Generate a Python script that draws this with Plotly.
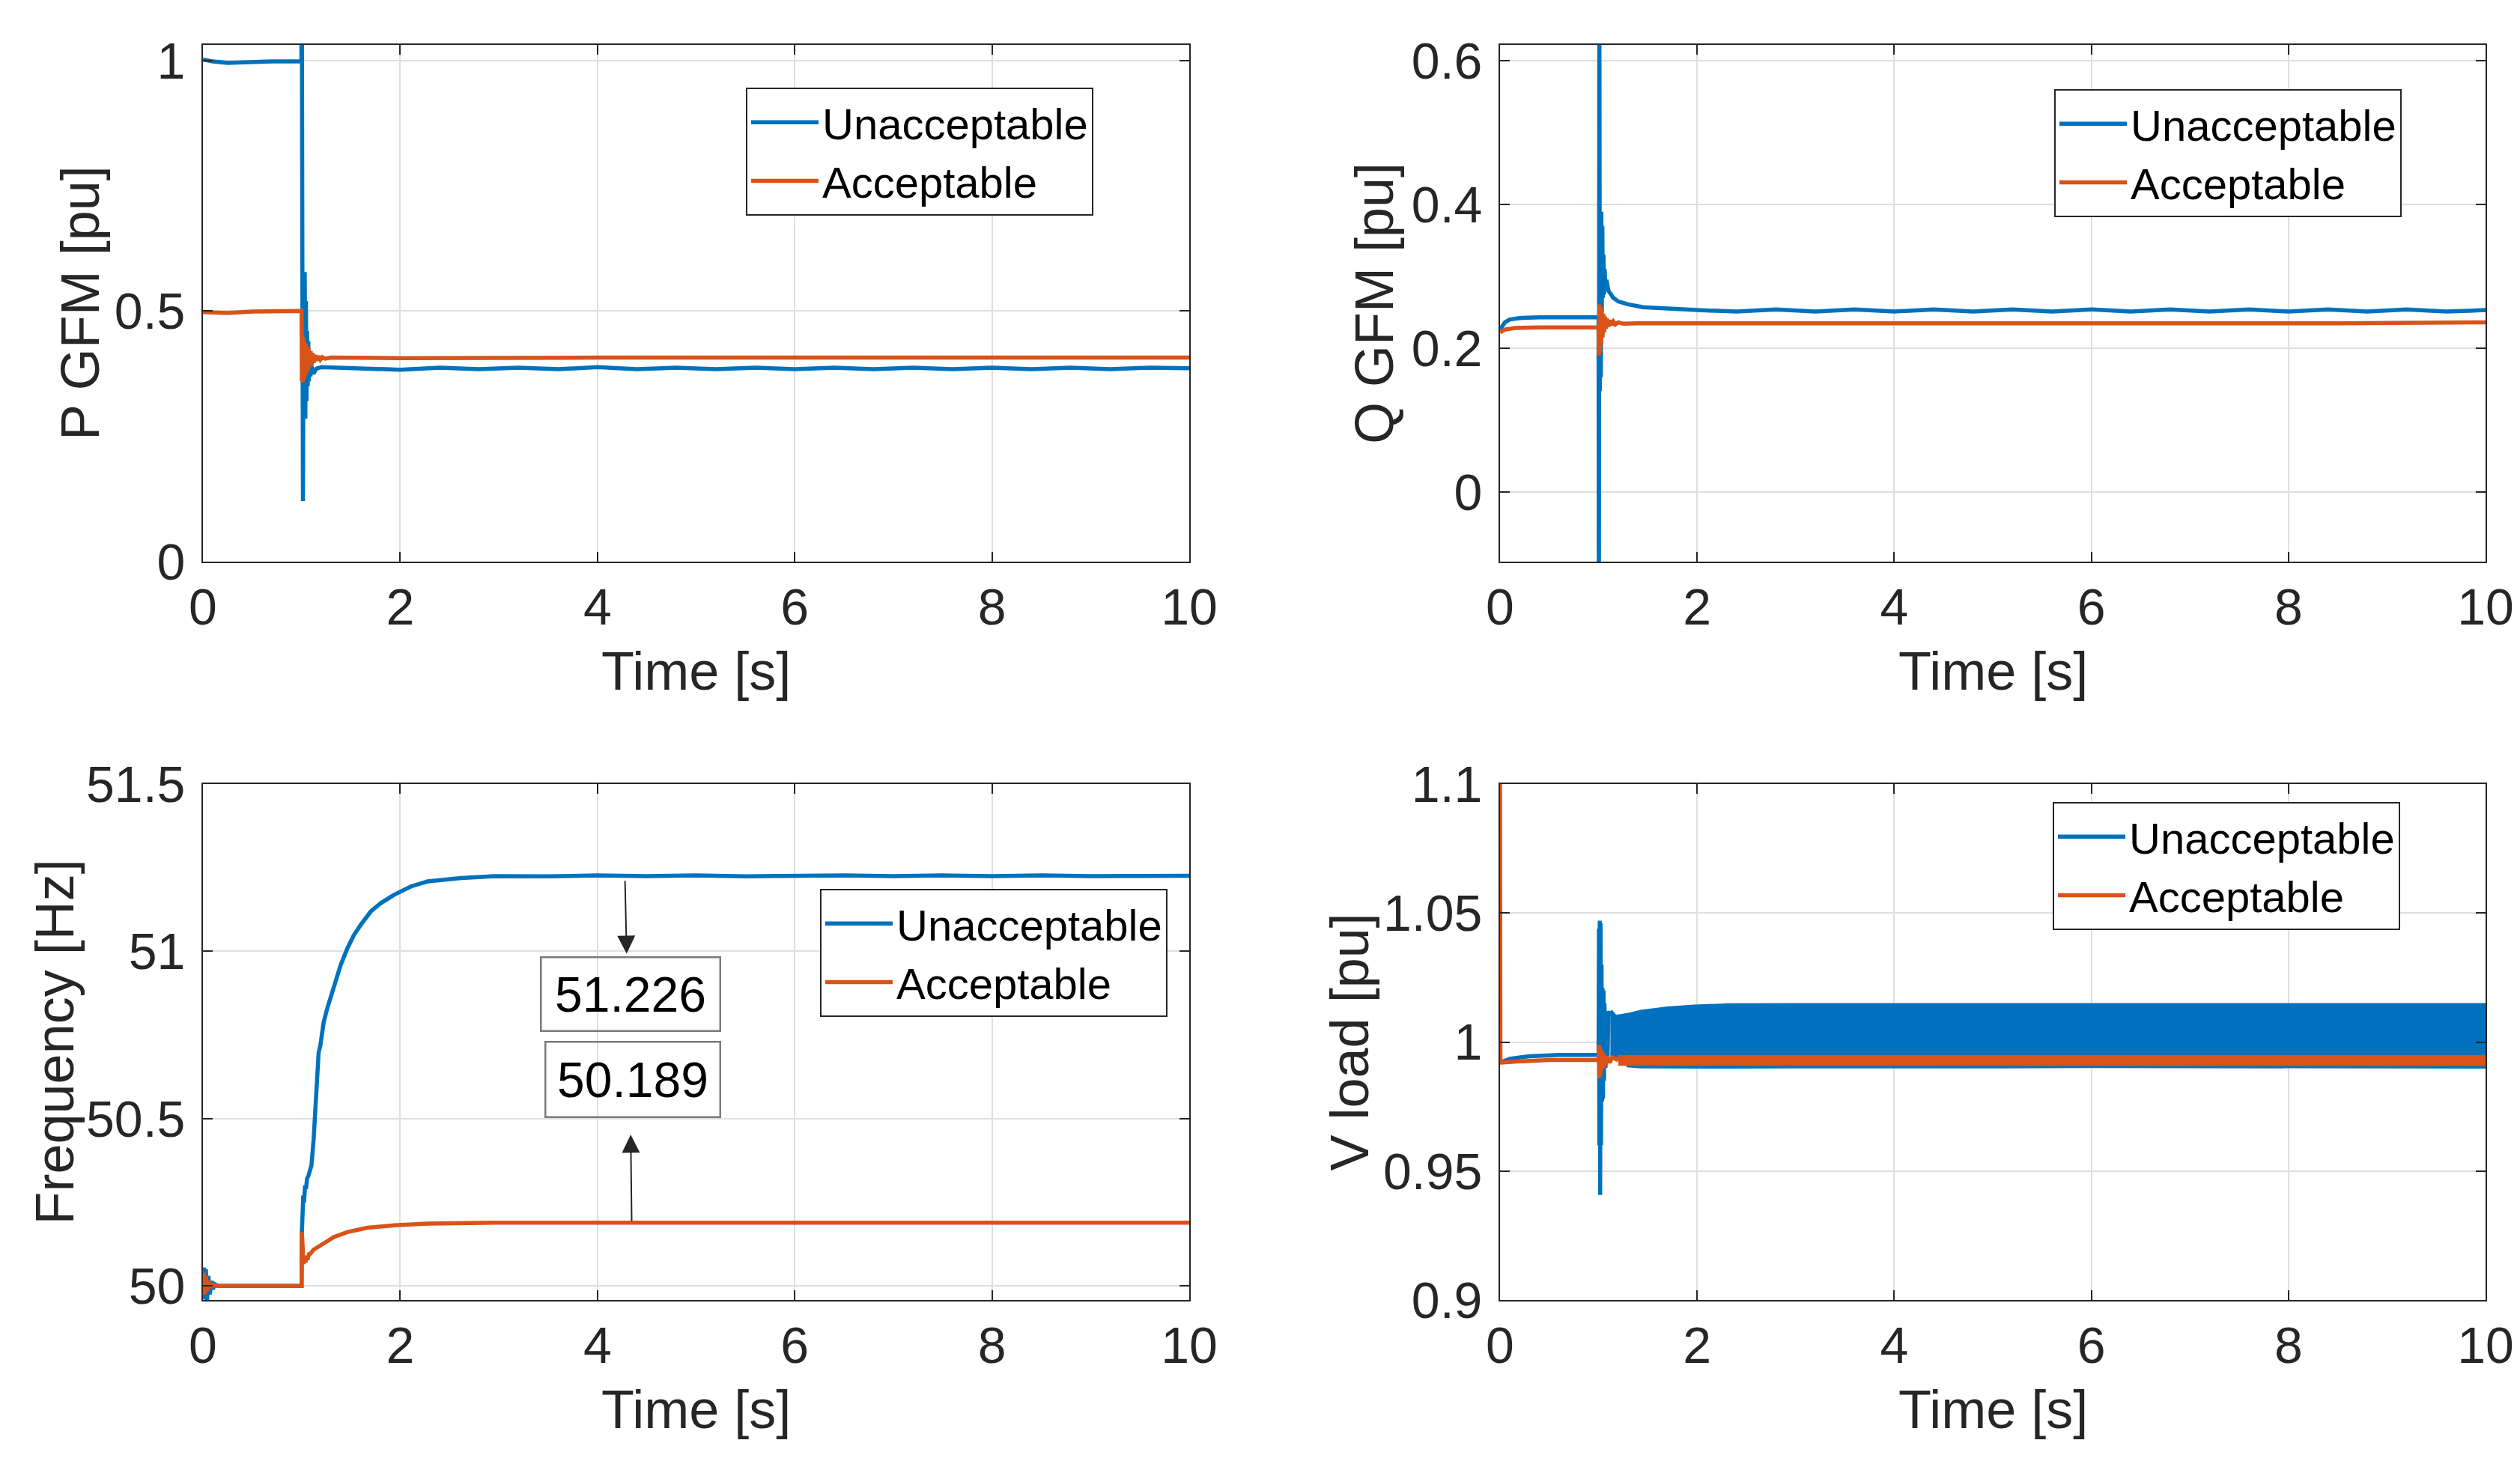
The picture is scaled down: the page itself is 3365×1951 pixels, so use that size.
import plotly.graph_objects as go
from plotly.subplots import make_subplots

W, H = 3365, 1951
BLUE = '#0072BD'
ORANGE = '#D95319'
INK = '#262626'
FONT = 'Liberation Sans, Arial, sans-serif'

# ---- P GFM [pu] ----
p_t_un = [0, 0.1, 0.25, 0.45, 0.7, 0.998, 1.002, 1.008, 1.014, 1.02, 1.026, 1.032, 1.038,
          1.044, 1.05, 1.056, 1.062, 1.068, 1.074, 1.08, 1.09, 1.1, 1.12, 1.15, 1.2, 1.5,
          2.0, 2.4, 2.8, 3.2, 3.6, 4.0, 4.4, 4.8, 5.2, 5.6, 6.0, 6.4, 6.8, 7.2, 7.6, 8.0,
          8.4, 8.8, 9.2, 9.6, 10]
p_un = [1.002, 0.998, 0.995, 0.997, 0.998, 0.998, 1.25, 0.6, 0.121, 0.55, 0.3, 0.578, 0.285,
        0.52, 0.32, 0.46, 0.35, 0.44, 0.36, 0.41, 0.37, 0.39, 0.375, 0.385, 0.388, 0.386,
        0.383, 0.387, 0.384, 0.387, 0.384, 0.388, 0.384, 0.387, 0.384, 0.387, 0.384, 0.387,
        0.384, 0.387, 0.384, 0.387, 0.384, 0.387, 0.384, 0.387, 0.386]
p_t_ac = [0, 0.25, 0.5, 0.998, 1.0, 1.003, 1.008, 1.013, 1.018, 1.023, 1.028, 1.033, 1.04,
          1.047, 1.055, 1.063, 1.072, 1.082, 1.092, 1.102, 1.112, 1.125, 1.14, 1.155, 1.17,
          1.19, 1.21, 1.24, 1.3, 2, 4, 6, 8, 10]
p_ac = [0.498, 0.496, 0.499, 0.5, 0.5, 0.36, 0.45, 0.358, 0.445, 0.365, 0.44, 0.37, 0.435,
        0.375, 0.43, 0.38, 0.425, 0.388, 0.42, 0.392, 0.416, 0.397, 0.412, 0.401, 0.41,
        0.403, 0.408, 0.405, 0.407, 0.406, 0.407, 0.406, 0.407, 0.407]

# ---- Q GFM [pu] ----
q_t_un = [0, 0.05, 0.1, 0.2, 0.4, 0.7, 0.995, 1.0, 1.003, 1.008, 1.013, 1.018, 1.023, 1.028,
          1.033, 1.038, 1.044, 1.05, 1.056, 1.062, 1.07, 1.08, 1.1, 1.15, 1.2, 1.3, 1.45, 1.7,
          2.0, 2.4, 2.8, 3.2, 3.6, 4.0, 4.4, 4.8, 5.2, 5.6, 6.0, 6.4, 6.8, 7.2, 7.6, 8.0, 8.4,
          8.8, 9.2, 9.6, 10]
q_un = [0.226, 0.236, 0.240, 0.242, 0.243, 0.243, 0.243, 0.243, -0.2, 0.7, 0.14, 0.337, 0.16,
        0.39, 0.25, 0.37, 0.27, 0.33, 0.275, 0.31, 0.28, 0.295, 0.28, 0.27, 0.265, 0.261,
        0.257, 0.255, 0.253, 0.251, 0.254, 0.251, 0.254, 0.251, 0.254, 0.251, 0.254, 0.251,
        0.254, 0.251, 0.254, 0.251, 0.254, 0.251, 0.254, 0.251, 0.254, 0.251, 0.253]
q_t_ac = [0, 0.05, 0.15, 0.4, 0.995, 1.0, 1.004, 1.009, 1.014, 1.02, 1.026, 1.032, 1.04, 1.048,
          1.057, 1.066, 1.076, 1.087, 1.1, 1.115, 1.13, 1.15, 1.17, 1.2, 1.25, 1.4, 3, 5, 7,
          8.5, 10]
q_ac = [0.222, 0.226, 0.228, 0.229, 0.229, 0.229, 0.19, 0.261, 0.195, 0.258, 0.205, 0.252,
        0.215, 0.248, 0.222, 0.244, 0.227, 0.241, 0.23, 0.239, 0.232, 0.237, 0.233, 0.236,
        0.234, 0.2345, 0.2345, 0.2355, 0.2355, 0.2345, 0.236]

# ---- Frequency [Hz] ----
f_t_un = [0, 0.01, 0.02, 0.03, 0.04, 0.055, 0.07, 0.085, 0.1, 0.12, 0.15, 0.5, 1.0, 1.003,
          1.01, 1.017, 1.025, 1.035, 1.045, 1.055, 1.07, 1.088, 1.1, 1.122, 1.139, 1.156,
          1.173, 1.19, 1.224, 1.259, 1.327, 1.395, 1.463, 1.531, 1.599, 1.701, 1.803, 1.939,
          2.109, 2.279, 2.619, 2.959, 3.5, 4, 4.5, 5, 5.5, 6, 6.5, 7, 7.5, 8, 8.5, 9, 9.5, 10]
f_un = [50.0, 50.055, 49.96, 50.05, 49.95, 50.03, 49.975, 50.015, 49.99, 50.005, 50.0, 50.0,
        50.0, 50.16, 50.22, 50.27, 50.25, 50.3, 50.29, 50.32, 50.33, 50.346, 50.36, 50.437,
        50.517, 50.617, 50.698, 50.718, 50.788, 50.828, 50.898, 50.958, 51.008, 51.049,
        51.079, 51.119, 51.144, 51.169, 51.194, 51.209, 51.219, 51.225, 51.224, 51.227,
        51.225, 51.227, 51.224, 51.226, 51.227, 51.225, 51.227, 51.225, 51.227, 51.225,
        51.227, 51.226]
f_t_ac = [0, 0.01, 0.02, 0.03, 0.045, 0.06, 0.08, 0.1, 0.15, 1.0, 1.003, 1.01, 1.02, 1.03,
          1.04, 1.05, 1.06, 1.075, 1.088, 1.12, 1.19, 1.327, 1.463, 1.667, 1.939, 2.279,
          2.959, 4, 5, 6, 7, 8, 10]
f_ac = [50.0, 50.04, 49.975, 50.03, 49.985, 50.015, 49.995, 50.003, 50.0, 50.0, 50.161, 50.1,
        50.066, 50.085, 50.07, 50.09, 50.078, 50.095, 50.096, 50.108, 50.121, 50.146, 50.161,
        50.174, 50.181, 50.186, 50.189, 50.189, 50.19, 50.191, 50.19, 50.189, 50.189]

# ---- V load [pu] ----
v_t_un = [0, 0.1, 0.3, 0.6, 1.0, 1.004, 1.008, 1.012, 1.016, 1.02, 1.025, 1.03, 1.035, 1.04,
          1.045, 1.05, 1.055, 1.06, 1.07, 1.08, 1.09, 1.1, 1.12]
v_un = [0.992, 0.9935, 0.9945, 0.995, 0.995, 1.044, 0.96, 1.047, 0.9407, 1.046, 0.96, 1.03,
        0.977, 1.021, 0.978, 1.02, 0.985, 1.015, 0.99, 1.012, 0.992, 1.01, 1.012]
# envelope of the fast oscillation after the event
v_t_band_un = [1.12, 1.17, 1.25, 1.3, 1.43, 1.7, 1.97, 2.31, 3, 4, 5, 6, 7, 8, 9, 10]
v_hi_un = [1.012, 1.0097, 1.0102, 1.0105, 1.0117, 1.013, 1.0137, 1.0142, 1.0143, 1.0143,
           1.0142, 1.0143, 1.0143, 1.0142, 1.0143, 1.0143]
v_lo_un = [0.995, 0.995, 0.9945, 0.991, 0.9906, 0.9905, 0.9905, 0.9905, 0.9906, 0.9905,
           0.9906, 0.9907, 0.9906, 0.9905, 0.9906, 0.9905]
v_t_ac = [0, 0.004, 0.2, 0.5, 1.0, 1.004, 1.008, 1.013, 1.018, 1.024, 1.03, 1.04, 1.05, 1.06,
          1.075, 1.09, 1.11, 1.14, 1.2]
v_ac = [1.1, 0.992, 0.9925, 0.993, 0.993, 0.999, 0.986, 0.998, 0.987, 0.997, 0.989, 0.996,
        0.99, 0.995, 0.991, 0.9945, 0.992, 0.994, 0.993]
v_t_band_ac = [1.2, 2, 4, 6, 8, 10]
v_hi_ac = [0.9942, 0.9942, 0.9943, 0.9942, 0.9943, 0.9942]
v_lo_ac = [0.9916, 0.9916, 0.9915, 0.9916, 0.9916, 0.9915]

x_ticks = [0, 2, 4, 6, 8, 10]
panels = [
    # row, col, y ticks, tick labels, y range, y title, legend
    (1, 1, [0, 0.5, 1], ['0', '0.5', '1'], [0, 1.031], 'P GFM [pu]', 'legend'),
    (1, 2, [0, 0.2, 0.4, 0.6], ['0', '0.2', '0.4', '0.6'], [-0.097, 0.622], 'Q GFM [pu]', 'legend2'),
    (2, 1, [50, 50.5, 51, 51.5], ['50', '50.5', '51', '51.5'], [49.958, 51.5], 'Frequency [Hz]', 'legend3'),
    (2, 2, [0.9, 0.95, 1, 1.05, 1.1], ['0.9', '0.95', '1', '1.05', '1.1'], [0.9, 1.1], 'V load [pu]', 'legend4'),
]

# axes boxes in pixels of the 3365x1951 page: left, right, top, bottom
col_px = {1: (263, 1580), 2: (1995, 3311)}
row_px = {1: (52, 742), 2: (1039, 1728)}
title_x_px = {(1, 1): 99, (1, 2): 1827, (2, 1): 64, (2, 2): 1793}
legend_px = {'legend': (988, 109), 'legend2': (2735, 111), 'legend3': (1087, 1179), 'legend4': (2733, 1063)}

fig = make_subplots(rows=2, cols=2)

def line(t, v, color, name, row, col, leg, show=True, fill=None):
    fig.add_trace(go.Scatter(
        x=t, y=v, mode='lines', name=name, legend=leg, showlegend=show,
        line=dict(color=color, width=5.5), fill=fill, fillcolor=color,
        hoverinfo='skip'), row=row, col=col)

line(p_t_un, p_un, BLUE, 'Unacceptable', 1, 1, 'legend')
line(p_t_ac, p_ac, ORANGE, 'Acceptable', 1, 1, 'legend')
line(q_t_un, q_un, BLUE, 'Unacceptable', 1, 2, 'legend2')
line(q_t_ac, q_ac, ORANGE, 'Acceptable', 1, 2, 'legend2')
line(f_t_un, f_un, BLUE, 'Unacceptable', 2, 1, 'legend3')
line(f_t_ac, f_ac, ORANGE, 'Acceptable', 2, 1, 'legend3')
line(v_t_un, v_un, BLUE, 'Unacceptable', 2, 2, 'legend4')
line(v_t_band_un, v_hi_un, BLUE, 'Unacceptable', 2, 2, 'legend4', show=False)
line(v_t_band_un, v_lo_un, BLUE, 'Unacceptable', 2, 2, 'legend4', show=False, fill='tonexty')
line(v_t_ac, v_ac, ORANGE, 'Acceptable', 2, 2, 'legend4')
line(v_t_band_ac, v_hi_ac, ORANGE, 'Acceptable', 2, 2, 'legend4', show=False)
line(v_t_band_ac, v_lo_ac, ORANGE, 'Acceptable', 2, 2, 'legend4', show=False, fill='tonexty')

annotations = []
for row, col, yt, ytl, yr, ytitle, leg in panels:
    x0, x1 = col_px[col]
    y0, y1 = row_px[row]
    axis_common = dict(
        showline=True, linecolor=INK, linewidth=2, mirror='allticks',
        ticks='inside', ticklen=13, tickwidth=2, tickcolor=INK, automargin=False,
        showgrid=True, gridcolor='#DFDFDF', gridwidth=2, zeroline=False,
        tickfont=dict(family=FONT, size=68, color=INK))
    fig.update_xaxes(domain=[x0 / W, x1 / W], range=[0, 10], tickvals=x_ticks,
                     ticktext=[str(v) for v in x_ticks], ticklabelstandoff=0,
                     row=row, col=col, **axis_common)
    fig.update_yaxes(domain=[1 - y1 / H, 1 - y0 / H], range=yr, tickvals=yt, ticktext=ytl,
                     ticklabelstandoff=8, row=row, col=col, **axis_common)
    # axis titles
    annotations.append(dict(
        text='Time [s]', xref='paper', yref='paper', x=(x0 + x1) / 2 / W,
        y=1 - (y1 + 146) / H, xanchor='center', yanchor='middle', showarrow=False,
        font=dict(family=FONT, size=72, color=INK)))
    annotations.append(dict(
        text=ytitle, xref='paper', yref='paper', x=title_x_px[(row, col)] / W,
        y=1 - (y0 + y1) / 2 / H, xanchor='center', yanchor='middle', textangle=-90,
        showarrow=False, font=dict(family=FONT, size=72, color=INK)))
    lx, ly = legend_px[leg]
    fig.update_layout({leg: dict(
        x=lx / W, y=1 - ly / H, xanchor='left', yanchor='top', traceorder='normal',
        bgcolor='white', bordercolor=INK, borderwidth=2, itemwidth=90,
        font=dict(family=FONT, size=58, color='black'), tracegroupgap=0)})

# data tips on the frequency plot
arrow_tails = [(4.279, 51.214), (4.347, 50.191)]
arrow_heads = [(4.296, 50.993), (4.337, 50.452)]
for (tx, ty), (hx, hy) in zip(arrow_tails, arrow_heads):
    annotations.append(dict(
        x=hx, y=hy, ax=tx, ay=ty, xref='x3', yref='y3', axref='x3', ayref='y3',
        text='', showarrow=True, arrowhead=2, arrowsize=2.4, arrowwidth=2,
        arrowcolor=INK, standoff=0, startstandoff=0))
tip_labels = ['51.226', '50.189']
tip_pos = [(4.338, 50.873), (4.361, 50.617)]
tip_size = [(241, 100), (235, 102)]
for lab, (bx, by), (bw, bh) in zip(tip_labels, tip_pos, tip_size):
    annotations.append(dict(
        x=bx, y=by, xref='x3', yref='y3', text=lab, showarrow=False,
        xanchor='center', yanchor='middle', width=bw - 6, height=bh - 6,
        bordercolor='#7A7A7A', borderwidth=2.5, borderpad=1,
        font=dict(family=FONT, size=66, color='black')))

fig.update_layout(
    width=W, height=H, margin=dict(l=0, r=0, t=0, b=0),
    paper_bgcolor='white', plot_bgcolor='white',
    annotations=annotations, showlegend=True)

fig.write_html("out.html")
